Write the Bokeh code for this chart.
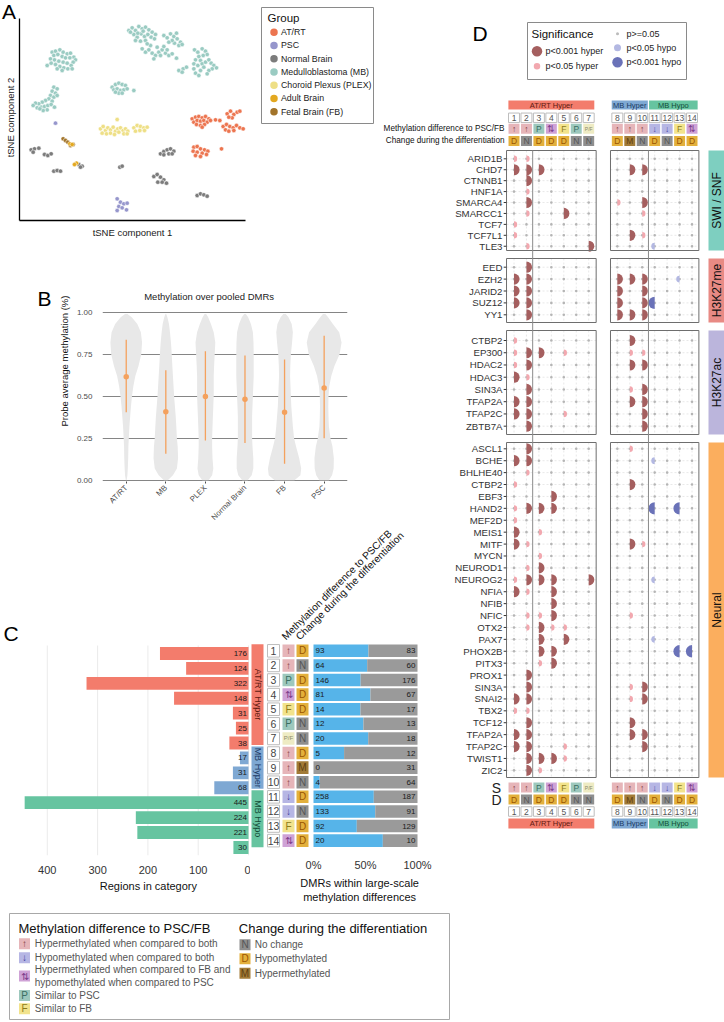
import math
from bokeh.plotting import figure
from bokeh.models import Range1d, GridBox, FixedTicker, PrintfTickFormatter, NumeralTickFormatter
from bokeh.layouts import row
from bokeh.embed import file_html
from bokeh.resources import INLINE
from bokeh.core.properties import value

FONT = "Liberation Sans"
COLW = [378, 72, 274]
ROWH = [148, 92, 288, 377, 117]
NB = "\u00a0"

# ======================= DATA =======================
# ---- Panel A: tSNE (arbitrary units; y grows downward) ----
a_groups = ["AT/RT", "PSC", "Normal Brain", "Medulloblastoma (MB)", "Choroid Plexus (PLEX)", "Adult Brain", "Fetal Brain (FB)"]
tsne_mb = [(325,30),(335,22),(345,30),(355,18),(365,25),(375,20),(385,28),(395,35),(405,42),(340,42),(350,50),(362,40),(372,48),(382,42),(392,50),(402,55),(345,60),(360,62),(375,60),(330,35),(352,38),(368,32),
           (365,85),(375,95),(385,88),(395,98),(405,105),(415,95),(425,88),(435,98),(445,105),(400,115),(410,80),(420,105),(430,78),(390,75),(380,70),(440,88),(455,100),
           (430,45),(440,52),(450,40),(460,48),(470,55),(480,65),(462,68),(475,75),(455,60),(485,72),(445,65),(468,38),(468,113),
           (522,88),(532,95),(545,85),(555,92),(560,102),(548,105),(535,108),(525,118),(540,120),(520,130),(532,135),(545,130),(555,125),(565,118),(572,128),(580,135),(588,142),(575,145),(565,150),(550,140),(540,150),(525,158),(535,165),(520,145),(475,150),(488,145),(498,140),(485,155),(560,160),
           (95,95),(105,92),(118,88),(128,95),(140,100),(150,98),(160,110),(165,118),(100,105),(112,102),(125,108),(135,112),(148,112),(158,125),(90,115),(102,118),(115,122),(128,125),(140,128),(152,135),(80,135),(92,128),(105,132),(118,138),(130,142),(142,145),(155,145),(110,145),(125,150),
           (100,200),(110,205),(95,212),(105,218),(90,225),(100,230),(85,235),(95,242),(75,240),(65,245),(55,250),(45,248),(38,255),(50,262),(62,260),(72,258),(82,255),(92,252),(102,260),(80,268),(68,270),(58,265),(110,225),
           (275,200),(285,192),(295,188),(305,192),(315,195),(280,208),(290,205),(300,210),(310,208),(320,205),(295,218),(305,218),(340,210),(285,215)]
tsne_plex = [(240,325),(248,318),(255,330),(262,322),(270,328),(278,320),(285,332),(292,325),(300,322),(308,330),(315,325),(322,332),(245,338),(258,340),(270,338),(282,342),(295,335),(310,340),(320,340),
             (340,322),(350,315),(360,318),(370,322),(380,320),(345,332),(358,330),(372,330),(290,297)]
tsne_atrt = [(515,295),(525,290),(535,288),(545,292),(555,288),(565,295),(520,305),(530,300),(540,302),(550,300),(560,305),(570,300),(528,312),(540,315),(552,312),(545,320),(585,298),(598,300),
             (608,318),(618,312),(628,318),(638,322),(648,315),(658,322),(668,325),(615,328),(625,332),(640,330),(620,280),(630,272),(640,282),(650,275),(658,272),(635,292),(625,290),
             (520,380),(530,378),(540,385),(552,388),(562,392),(518,392),(530,395),(545,398),(558,402),(525,405),(540,408),(603,385)]
tsne_normal = [(32,388),(42,385),(55,383),(38,395),(72,402),(82,405),(92,400),(100,452),(110,450),(120,452),(175,432),(185,437),(180,440),(298,440),(305,437),
               (420,400),(430,393),(440,388),(450,385),(460,392),(445,400),(430,403),(455,400),(400,468),(410,462),(420,470),(430,478),(412,485),(425,485),(438,488),
               (530,525),(540,520),(550,523),(560,527)]
tsne_adult = [(168,428),(162,432),(148,370),(155,372)]
tsne_fetal = [(128,355),(135,360),(142,365),(150,375),(158,372)]
tsne_psc = [(105,308),(290,535),(300,545),(310,550),(320,548),(295,558),(305,562),(318,568),(290,570)]

# ---- Panel B: violins (half-widths in category units at each level) ----
b_cats = ["AT/RT", "MB", "PLEX", "Normal Brain", "FB", "PSC"]
b_levels = [0.00, 0.03, 0.07, 0.13, 0.20, 0.25, 0.32, 0.38, 0.44, 0.50, 0.56, 0.62, 0.68, 0.75, 0.82, 0.88, 0.93, 0.97, 0.99]
b_hw_atrt = [0.01, 0.03, 0.04, 0.05, 0.055, 0.065, 0.08, 0.10, 0.12, 0.145, 0.18, 0.23, 0.31, 0.38, 0.40, 0.37, 0.28, 0.14, 0.03]
b_hw_mb = [0.05, 0.18, 0.28, 0.31, 0.30, 0.28, 0.265, 0.25, 0.23, 0.21, 0.195, 0.18, 0.165, 0.15, 0.13, 0.105, 0.08, 0.04, 0.01]
b_hw_plex = [0.08, 0.17, 0.20, 0.18, 0.17, 0.17, 0.18, 0.19, 0.20, 0.21, 0.21, 0.21, 0.22, 0.235, 0.25, 0.21, 0.14, 0.07, 0.02]
b_hw_nb = [0.07, 0.17, 0.21, 0.21, 0.19, 0.18, 0.18, 0.18, 0.19, 0.20, 0.21, 0.22, 0.22, 0.22, 0.215, 0.20, 0.15, 0.08, 0.02]
b_hw_fb = [0.25, 0.40, 0.42, 0.37, 0.29, 0.24, 0.21, 0.19, 0.17, 0.16, 0.15, 0.14, 0.145, 0.16, 0.19, 0.21, 0.18, 0.10, 0.03]
b_hw_psc = [0.12, 0.20, 0.24, 0.245, 0.21, 0.16, 0.12, 0.11, 0.105, 0.11, 0.13, 0.18, 0.26, 0.39, 0.44, 0.38, 0.22, 0.10, 0.03]
b_median = [0.616, 0.407, 0.498, 0.482, 0.404, 0.549]
b_low = [0.404, 0.158, 0.236, 0.222, 0.098, 0.250]
b_high = [0.836, 0.655, 0.767, 0.742, 0.718, 0.860]
b_ticks = [0, 0.25, 0.5, 0.75, 1.0]

# ---- Panel C ----
c_num = list(range(1, 15))
c_group = ["AT/RT Hyper"] * 7 + ["MB Hyper"] * 3 + ["MB Hypo"] * 4
c_total = [176, 124, 322, 148, 31, 25, 38, 17, 31, 68, 445, 224, 221, 30]
c_in = [93, 64, 146, 81, 14, 12, 20, 5, 0, 4, 258, 133, 92, 20]
c_out = [83, 60, 176, 67, 17, 13, 18, 12, 31, 64, 187, 91, 129, 10]
c_S = ["↑", "↑", "P", "⇅", "F", "P", "P/F", "↑", "↑", "↑", "↓", "↓", "F", "⇅"]
c_D = ["D", "N", "D", "D", "D", "N", "N", "D", "M", "N", "D", "N", "D", "D"]
c_count_ticks = [0, 100, 200, 300, 400]
leg_s_codes = ["↑", "↓", "⇅", "P", "F"]
leg_s_text = ["Hypermethylated when compared to both", "Hypomethylated when compared to both",
              "Hypermethylated when compared to FB and\nhypomethylated when compared to PSC", "Similar to PSC", "Similar to FB"]
leg_d_codes = ["N", "D", "M"]
leg_d_text = ["No change", "Hypomethylated", "Hypermethylated"]

# ---- Panel D ----
d_group_names = ["SWI / SNF", "H3K27me", "H3K27ac", "Neural"]
d_genes_swi = ["ARID1B", "CHD7", "CTNNB1", "HNF1A", "SMARCA4", "SMARCC1", "TCF7", "TCF7L1", "TLE3"]
d_sig_swi = ["hh............", "HHH.....HH....", ".H............", ".h............", ".H.....h.H....",
             ".h..H....h....", "h.............", "h.......Hh....", ".h....H...l..."]
d_genes_k27me = ["EED", "EZH2", "JARID2", "SUZ12", "YY1"]
d_sig_k27me = [".H............", "HH.....HHH..l.", "HH.....H.H....", "HH.....H.HL...", ".H.....HHH...."]
d_genes_k27ac = ["CTBP2", "EP300", "HDAC2", "HDAC3", "SIN3A", "TFAP2A", "TFAP2C", "ZBTB7A"]
d_sig_k27ac = ["h.......H.....", "hHH.h...hh....", "hH......HH....", "Hh............", ".H......hH....",
               "HH......HH....", "HH..h....H....", ".H.......H...."]
d_genes_neural = ["ASCL1", "BCHE", "BHLHE40", "CTBP2", "EBF3", "HAND2", "MEF2D", "MEIS1", "MITF", "MYCN",
                  "NEUROD1", "NEUROG2", "NFIA", "NFIB", "NFIC", "OTX2", "PAX7", "PHOX2B", "PITX3", "PROX1",
                  "SIN3A", "SNAI2", "TBX2", "TCF12", "TFAP2A", "TFAP2C", "TWIST1", "ZIC2"]
d_sig_neural = [".H......h.....", "HH........l...", ".h............", "h.......H.....", "...H..........",
                "hHHH......L.L.", "h.............", "H.h...........", "Hh......Hh....", "..h...........",
                ".hH...........", "hHHH..H...l...", "Hh.H..........", "...H..........", ".hhH....h.....",
                ".hHhh.........", "..H.H.....l...", "..HH........LL", "..hH..........", ".H............",
                ".H......hH....", "HH......hH....", "hh............", ".H......H.....", "HH......HH....",
                "HH..h....H....", ".HHHh.........", ".Hh..........."]
d_col_group = ["AT/RT Hyper", "MB Hyper", "MB Hypo"]
d_col_group_span = [(1, 7), (8, 10), (11, 14)]

# ======================= STYLES / LAYOUT CONSTANTS =======================
A_COLORS = ["#EC7550", "#9696CC", "#7C7C7C", "#9ACBC2", "#EEDF86", "#E3A820", "#A2742A"]
GROUP_FILL = {"AT/RT Hyper": "#F37C6C", "MB Hyper": "#7EA8D3", "MB Hypo": "#66C4A0"}
GROUP_TEXT = {"AT/RT Hyper": "#5E1A10", "MB Hyper": "#1C3A63", "MB Hypo": "#134D38"}
S_FILL = {"↑": "#E6B5B9", "↓": "#B6B6E4", "⇅": "#CFA2D6", "P": "#9DC8BD", "F": "#F2E38C", "P/F": "#EEEBC3"}
S_TEXT = {"↑": "#7D3A3A", "↓": "#3D3D9A", "⇅": "#7D3C8A", "P": "#3A6E62", "F": "#8C7A1A", "P/F": "#8A8A6A"}
D_FILL = {"N": "#8E8E8E", "D": "#E3B03C", "M": "#A27B37"}
D_TEXT = {"N": "#555555", "D": "#9A5500", "M": "#604010"}
STRIP_FILL = ["#7ECFC0", "#E88A84", "#BBB5DC", "#FBAE5E"]
ORANGE = "#F4A15D"
# facet placement (page px): first row, row step, box top, box bottom
D_FACET_PX = [(158.3, 10.93, 150, 250), (266.7, 11.9, 258, 322), (340.0, 12.24, 330, 434), (448.3, 11.91, 442, 777)]


def kw_fig(w, h, xr, yr, left=0, right=0, top=0, bottom=0, xaxis=False, yaxis=False):
    return dict(width=w, height=h, x_range=xr, y_range=yr, output_backend="svg",
                toolbar_location=None, title=None, frame_align=False,
                x_axis_type="linear" if xaxis else None,
                y_axis_type="linear" if yaxis else None,
                min_border_left=left, min_border_right=right, min_border_top=top, min_border_bottom=bottom,
                background_fill_color="white", border_fill_color="white", outline_line_color=None)


def txt(p, x, y, t, size, color="#222222", align="left", baseline="middle", angle=0.0):
    p.text(x=list(x), y=list(y), text=list(t), text_font=value(FONT), text_font_size=value(f"{size}px"),
           text_color=color, text_align=align, text_baseline=baseline, angle=angle)


def style_axis(axis, size="11px", color="#333333"):
    axis.axis_line_color = None
    axis.major_tick_line_color = None
    axis.minor_tick_line_color = None
    axis.major_label_text_font = FONT
    axis.major_label_text_font_size = size
    axis.major_label_text_color = color
    axis.axis_label_text_font = FONT
    axis.axis_label_text_font_style = "normal"
    axis.axis_label_text_color = "#111111"


def tile_glyphs(p, xs, ys, codes, w, h, fillmap, textmap, size, small):
    p.rect(x=xs, y=ys, width=w, height=h, fill_color=[fillmap[c] for c in codes], line_color=None)
    big = [i for i, c in enumerate(codes) if c != "P/F"]
    sm = [i for i, c in enumerate(codes) if c == "P/F"]
    for idx, fs in ((big, size), (sm, small)):
        if idx:
            p.text(x=[xs[i] for i in idx], y=[ys[i] for i in idx], text=[codes[i] for i in idx],
                   text_font=value(FONT), text_font_size=value(f"{fs}px"),
                   text_color=[textmap[codes[i]] for i in idx], text_align="center", text_baseline="middle")


# ======================= PANEL A =======================
def ax(px):
    return 3.0 * (px - 20)


def ay(py):
    return 3.0 * (py - 20)


pA = figure(**kw_fig(COLW[0], ROWH[0] + ROWH[1], Range1d(ax(0), ax(378)), Range1d(ay(240), ay(0))))
for pts, col in [(tsne_mb, A_COLORS[3]), (tsne_plex, A_COLORS[4]), (tsne_atrt, A_COLORS[0]),
                 (tsne_normal, A_COLORS[2]), (tsne_fetal, A_COLORS[6]), (tsne_adult, A_COLORS[5]),
                 (tsne_psc, A_COLORS[1])]:
    pA.scatter([q[0] for q in pts], [q[1] for q in pts], size=4.4, fill_color=col,
               line_color="white", line_width=0.5)
pA.segment(x0=[ax(19), ax(19)], y0=[ay(220), ay(18)], x1=[ax(245), ax(19)], y1=[ay(220), ay(220)],
           line_color="#000000", line_width=1.3)
txt(pA, [ax(132)], [ay(231.5)], ["tSNE component 1"], 9.5, color="#1a1a1a", align="center")
txt(pA, [ax(10)], [ay(117)], ["tSNE component 2"], 9.5, color="#1a1a1a", align="center", angle=math.pi / 2)
pA.quad(left=[ax(261)], right=[ax(373)], top=[ay(7)], bottom=[ay(123)], fill_color="white",
        line_color="#8A8A8A", line_width=1)
txt(pA, [ax(267)], [ay(17.5)], ["Group"], 11.5, color="#111111")
leg_y = [ay(31.7 + 13.25 * i) for i in range(len(a_groups))]
pA.scatter([ax(273.5)] * len(a_groups), leg_y, size=7.5, fill_color=A_COLORS, line_color=None)
txt(pA, [ax(280.5)] * len(a_groups), leg_y, a_groups, 8.8, color="#222222")
txt(pA, [ax(1.5)], [ay(-1)], ["A"], 21, color="#000000", baseline="top")

# ======================= PANEL B =======================
def bx(px):
    return 1 + (px - 116.7) / 41.2


def by(py):
    return (481.7 - py) / 169.4


BL_W = 55
pBl = figure(**kw_fig(BL_W, ROWH[2], Range1d(0, 55), Range1d(528, 240)))
txt(pBl, [37], [298], ["B"], 21, color="#000000")

pB = figure(**kw_fig(COLW[0] + COLW[1] - BL_W, ROWH[2], Range1d(bx(92), bx(347)), Range1d(by(483), by(240)),
                     left=37, right=103, top=0, bottom=45, xaxis=True, yaxis=True))
pB.xgrid.visible = False
pB.ygrid.ticker = FixedTicker(ticks=b_ticks)
pB.ygrid.grid_line_color = "#858585"
pB.ygrid.grid_line_width = 1
style_axis(pB.yaxis[0], "8px", "#4D4D4D")
pB.yaxis.ticker = FixedTicker(ticks=b_ticks)
pB.yaxis.formatter = PrintfTickFormatter(format="%.2f")
pB.yaxis.axis_label = "Probe average methylation (%)"
pB.yaxis.axis_label_text_font_size = "9.5px"
pB.yaxis.major_label_standoff = 4
pB.yaxis.axis_label_standoff = 4
style_axis(pB.xaxis[0], "7.8px", "#4D4D4D")
pB.xaxis.ticker = FixedTicker(ticks=list(range(1, 7)))
pB.xaxis.major_label_overrides = {i + 1: c for i, c in enumerate(b_cats)}
pB.xaxis.major_label_orientation = math.pi / 4
pB.xaxis.major_tick_line_color = "#4D4D4D"
pB.xaxis.major_tick_out = 2
pB.xaxis.major_tick_in = 0
pB.xaxis.major_label_standoff = 3

vx, vy = [], []
for i, hw in enumerate([b_hw_atrt, b_hw_mb, b_hw_plex, b_hw_nb, b_hw_fb, b_hw_psc]):
    c = i + 1
    vx.append([c + w for w in hw] + [c - w for w in reversed(hw)])
    vy.append(list(b_levels) + list(reversed(b_levels)))
pB.patches(vx, vy, fill_color="#E8E8E8", line_color=None)
bxs = [i + 1 for i in range(len(b_cats))]
pB.segment(x0=bxs, y0=b_low, x1=bxs, y1=b_high, line_color=ORANGE, line_width=1.3)
pB.scatter(bxs, b_median, size=5.5, fill_color=ORANGE, line_color=None)
txt(pB, [bx(203)], [by(296)], ["Methylation over pooled DMRs"], 9.5, color="#222222", align="center")

# ======================= PANEL C (left bars) =======================
def cly(py):
    return 1 + (py - 653) / 14.92


def clx(px):
    return (248 - px) / 0.503


pCl = figure(**kw_fig(250, ROWH[3], Range1d(clx(0), clx(250)), Range1d(cly(855), cly(528)),
                      top=0, bottom=50, xaxis=True))
pCl.xgrid.visible = False
style_axis(pCl.xaxis[0])
pCl.xaxis.ticker = FixedTicker(ticks=c_count_ticks)
pCl.xaxis.axis_label = NB * 15 + "Regions in category"
pCl.xaxis.axis_label_text_font_size = "11px"
pCl.xaxis.major_label_standoff = 4
pCl.xaxis.axis_label_standoff = 3
pCl.segment(x0=c_count_ticks, y0=[cly(645)] * 5, x1=c_count_ticks, y1=[cly(855)] * 5,
            line_color="#EBEBEB", line_width=1)
pCl.hbar(y=c_num, left=0, right=c_total, height=0.86, fill_color=[GROUP_FILL[g] for g in c_group], line_color=None)
txt(pCl, [clx(246.5)] * 14, c_num, [str(v) for v in c_total], 8, color="#1a1a1a", align="right")
txt(pCl, [clx(3)], [cly(633)], ["C"], 21, color="#000000")

# ======================= PANEL C (tiles + percent bars) =======================
def ux(px):
    return (px - 313) / 104.0


pCr = figure(**kw_fig(200, ROWH[3], Range1d(ux(250), ux(450)), Range1d(cly(855), cly(528)),
                      top=0, bottom=50, xaxis=True))
pCr.xgrid.visible = False
style_axis(pCr.xaxis[0])
pCr.xaxis.ticker = FixedTicker(ticks=[0, 0.5, 1.0])
pCr.xaxis.formatter = NumeralTickFormatter(format="0%")
pCr.xaxis.axis_label = NB * 6 + "DMRs within large-scale\n" + NB * 6 + "methylation differences"
pCr.xaxis.axis_label_text_font_size = "11px"
pCr.xaxis.major_label_standoff = 4
pCr.xaxis.axis_label_standoff = 3

frac = [a / (a + b) for a, b in zip(c_in, c_out)]
pCr.hbar(y=c_num, left=0, right=frac, height=0.86, fill_color="#56B4E9", line_color=None)
pCr.hbar(y=c_num, left=frac, right=1, height=0.86, fill_color="#9A9A9A", line_color=None)
txt(pCr, [ux(315)] * 14, c_num, [str(v) for v in c_in], 8, color="#1a1a1a")
txt(pCr, [ux(415)] * 14, c_num, [str(v) for v in c_out], 8, color="#1a1a1a", align="right")

for g in d_col_group:
    rows_g = [n for n, gg in zip(c_num, c_group) if gg == g]
    top, bot = min(rows_g) - 0.45, max(rows_g) + 0.45
    pCr.quad(left=[ux(251)], right=[ux(263)], top=[top], bottom=[bot], fill_color=GROUP_FILL[g], line_color=None)
    txt(pCr, [ux(257)], [(top + bot) / 2], [g], 9, color=GROUP_TEXT[g], align="center", angle=-math.pi / 2)

tw = 12 / 104.0
pCr.rect(x=[ux(273)] * 14, y=c_num, width=tw, height=0.86, fill_color="white", line_color="#BDBDBD", line_width=1)
txt(pCr, [ux(273)] * 14, c_num, [str(n) for n in c_num], 10.5, color="#444444", align="center")
tile_glyphs(pCr, [ux(288)] * 14, c_num, c_S, tw, 0.86, S_FILL, S_TEXT, 10, 6)
tile_glyphs(pCr, [ux(302)] * 14, c_num, c_D, tw, 0.86, D_FILL, D_TEXT, 10, 6)
txt(pCr, [ux(287), ux(301)], [cly(644), cly(644)],
    ["Methylation difference to PSC/FB", "Change during the differentiation"], 10.2,
    color="#111111", baseline="bottom", angle=math.pi / 4)

# ======================= PANEL C legend =======================
pCL = figure(**kw_fig(COLW[0] + COLW[1], ROWH[4], Range1d(0, 450), Range1d(1022, 905)))
pCL.quad(left=[9], right=[449], top=[913], bottom=[1019], fill_color=None, line_color="#A8A8A8", line_width=1)
txt(pCL, [18], [928.3], ["Methylation difference to PSC/FB"], 13, color="#111111")
txt(pCL, [238.3], [928.3], ["Change during the differentiation"], 13, color="#111111")
s_tile_y = [943.3, 957.3, 975.5, 995.0, 1008.3]
s_text_y = [[943.3], [957.3], [969.3, 981.7], [995.0], [1008.3]]
tile_glyphs(pCL, [24] * 5, s_tile_y, leg_s_codes, 11, 11, S_FILL, S_TEXT, 10, 6)
for lines, yy in zip(leg_s_text, s_text_y):
    parts = lines.split("\n")
    txt(pCL, [34.3] * len(parts), yy, parts, 10, color="#555555")
d_tile_y = [944.3, 958.3, 972.7]
tile_glyphs(pCL, [244.5] * 3, d_tile_y, leg_d_codes, 11, 11, D_FILL, D_TEXT, 10, 6)
txt(pCL, [254.3] * 3, d_tile_y, leg_d_text, 10, color="#555555")

# ======================= PANEL D =======================
def colx(px):
    return 1 + (px - 513.5) / 12.45


def colpos(c):
    return c if c <= 7 else c + 1.3


d_cols = list(range(1, 15))
d_x = [colpos(c) for c in d_cols]

# ---- header figure ----
pDt = figure(**kw_fig(COLW[1] + COLW[2], ROWH[0], Range1d(colx(378), colx(724)), Range1d(148, 0)))
TW = 0.88
for g, (c0, c1) in zip(d_col_group, d_col_group_span):
    l, r = colpos(c0) - 0.45, colpos(c1) + 0.45
    pDt.quad(left=[l], right=[r], top=[100], bottom=[109], fill_color=GROUP_FILL[g], line_color=None)
    txt(pDt, [(l + r) / 2], [104.6], [g], 7.5, color=GROUP_TEXT[g], align="center")
pDt.rect(x=d_x, y=[117.3] * 14, width=TW, height=9.5, fill_color="white", line_color="#BDBDBD", line_width=1)
txt(pDt, d_x, [117.5] * 14, [str(c) for c in d_cols], 8.5, color="#555555", align="center")
tile_glyphs(pDt, d_x, [128.2] * 14, c_S, TW, 10, S_FILL, S_TEXT, 8.5, 5)
tile_glyphs(pDt, d_x, [140.4] * 14, c_D, TW, 10, D_FILL, D_TEXT, 8.5, 5)
txt(pDt, [colx(504), colx(504)], [128.2, 140.4],
    ["Methylation difference to PSC/FB", "Change during the differentiation"], 8.2, color="#111111", align="right")
pDt.quad(left=[colx(527)], right=[colx(686)], top=[22], bottom=[79], fill_color="white", line_color="#8A8A8A", line_width=1)
txt(pDt, [colx(531)], [33.3], ["Significance"], 11.5, color="#111111")
sig_lx = [colx(536.5), colx(536.5), colx(617), colx(617), colx(617)]
sig_ly = [50.7, 65.7, 33.3, 47.3, 61.7]
sig_size = [10.5, 6.5, 3.0, 7.0, 10.5]
sig_col = ["#A55F5F", "#F2A8AF", "#BBBBBB", "#B3B8E2", "#6A72B8"]
sig_lab = ["p<0.001 hyper", "p<0.05 hyper", "p>=0.05", "p<0.05 hypo", "p<0.001 hypo"]
pDt.scatter(sig_lx, sig_ly, size=sig_size, fill_color=sig_col, line_color=None)
txt(pDt, [colx(545), colx(545), colx(626), colx(626), colx(626)], sig_ly, sig_lab, 9, color="#222222")
txt(pDt, [colx(472)], [21], ["D"], 21, color="#000000", baseline="top")

# ---- body figure (y in page px, facets placed like the reference) ----
pDb = figure(**kw_fig(COLW[2], ROWH[1] + ROWH[2] + ROWH[3], Range1d(colx(450), colx(724)), Range1d(905, 148)))
all_genes, all_sig, all_y, boxes = [], [], [], []
for gname, genes, sigs, (first, step, btop, bbot) in zip(
        d_group_names, [d_genes_swi, d_genes_k27me, d_genes_k27ac, d_genes_neural],
        [d_sig_swi, d_sig_k27me, d_sig_k27ac, d_sig_neural], D_FACET_PX):
    ys = [first + k * step for k in range(len(genes))]
    boxes.append((gname, btop, bbot, ys))
    all_genes += genes
    all_sig += sigs
    all_y += ys

facets = [(colpos(1) - 0.6, colpos(7) + 0.6, d_cols[:7]), (colpos(8) - 0.55, colpos(14) + 0.55, d_cols[7:])]
gx0, gy0, gx1, gy1 = [], [], [], []
for _, top, bot, ys in boxes:
    for fl, fr, cols in facets:
        for yv in ys:
            gx0.append(fl); gx1.append(fr); gy0.append(yv); gy1.append(yv)
        for c in cols:
            gx0.append(colpos(c)); gx1.append(colpos(c)); gy0.append(top); gy1.append(bot)
pDb.segment(x0=gx0, y0=gy0, x1=gx1, y1=gy1, line_color="#E2E2E2", line_width=0.8, line_dash="2 2")

dx, dy = [], []
for yv in all_y:
    for c in d_cols:
        dx.append(colpos(c)); dy.append(yv)
pDb.scatter(dx, dy, size=2.6, fill_color="#B5B5B5", line_color=None)

wedge_spec = {"H": (5.6, "#A55F5F", -math.pi / 2, math.pi / 2),
              "h": (3.2, "#F2A8AF", -math.pi / 2, math.pi / 2),
              "L": (6.2, "#6A72B8", math.pi / 2, 3 * math.pi / 2),
              "l": (3.4, "#B3B8E2", math.pi / 2, 3 * math.pi / 2)}
for code, (rad, colr, a0, a1) in wedge_spec.items():
    wx, wy = [], []
    for yv, s in zip(all_y, all_sig):
        for c, ch in zip(d_cols, s):
            if ch == code:
                wx.append(colpos(c)); wy.append(yv)
    if wx:
        pDb.wedge(x=wx, y=wy, radius=rad, radius_units="screen", start_angle=a0, end_angle=a1,
                  fill_color=colr, line_color=None)

for _, top, bot, _ys in boxes:
    for fl, fr, _c in facets:
        pDb.quad(left=[fl], right=[fr], top=[top], bottom=[bot], fill_color=None, line_color="#6E6E6E", line_width=1)
ytop, ybot = boxes[0][1], boxes[-1][2]
pDb.segment(x0=[2.5, colpos(10) + 0.5], y0=[ytop, ytop], x1=[2.5, colpos(10) + 0.5], y1=[ybot, ybot],
            line_color="#8A8A8A", line_width=1)

for (gname, top, bot, _ys), fc in zip(boxes, STRIP_FILL):
    pDb.quad(left=[colx(708)], right=[colx(726)], top=[top], bottom=[bot], fill_color=fc, line_color=None)
    txt(pDb, [colx(716.5)], [(top + bot) / 2], [gname], 12, color="#111111", align="center", angle=math.pi / 2)

txt(pDb, [colx(502)] * len(all_genes), all_y, all_genes, 9.7, color="#333333", align="right")
pDb.segment(x0=[colx(503.2)] * len(all_y), y0=all_y, x1=[colx(505.8)] * len(all_y), y1=all_y,
            line_color="#333333", line_width=1)

yS, yDD, yN, yG = ybot + 10, ybot + 22, ybot + 34, ybot + 46
tile_glyphs(pDb, d_x, [yS] * 14, c_S, TW, 10, S_FILL, S_TEXT, 8.5, 5)
tile_glyphs(pDb, d_x, [yDD] * 14, c_D, TW, 10, D_FILL, D_TEXT, 8.5, 5)
pDb.rect(x=d_x, y=[yN] * 14, width=TW, height=9.5, fill_color="white", line_color="#BDBDBD", line_width=1)
txt(pDb, d_x, [yN] * 14, [str(c) for c in d_cols], 8.5, color="#555555", align="center")
for g, (c0, c1) in zip(d_col_group, d_col_group_span):
    l, r = colpos(c0) - 0.45, colpos(c1) + 0.45
    pDb.quad(left=[l], right=[r], top=[yG - 5], bottom=[yG + 5], fill_color=GROUP_FILL[g], line_color=None)
    txt(pDb, [(l + r) / 2], [yG], [g], 7.5, color=GROUP_TEXT[g], align="center")
txt(pDb, [colx(496), colx(496)], [yS, yDD], ["S", "D"], 14, color="#222222", align="center")

# ======================= LAYOUT =======================
grid = GridBox(children=[(pA, 0, 0, 2, 1), (pDt, 0, 1, 1, 2), (pDb, 1, 2, 3, 1), (row(pBl, pB), 2, 0, 1, 2),
                         (row(pCl, pCr), 3, 0, 1, 2), (pCL, 4, 0, 1, 2)],
               rows=[f"{h}px" for h in ROWH], cols=[f"{w}px" for w in COLW], spacing=0)
open("out.html", "w").write(file_html(grid, INLINE))
